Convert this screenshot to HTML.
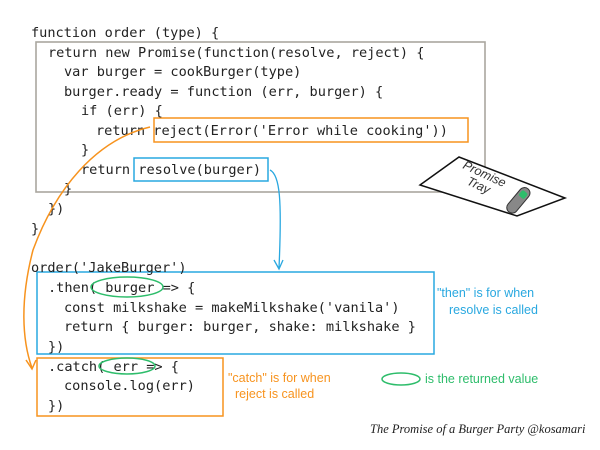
<!DOCTYPE html>
<html><head><meta charset="utf-8"><style>
html,body{margin:0;padding:0;background:#fff;width:600px;height:450px;overflow:hidden}
svg{display:block}
.c{font-family:"DejaVu Sans Mono","Liberation Mono",monospace;font-size:13.6px;fill:#222}
.h{font-family:"Liberation Sans",sans-serif;font-size:12.5px}
</style></head><body>
<svg width="600" height="450" viewBox="0 0 600 450">
<rect x="36" y="42" width="449" height="150" fill="none" stroke="#aaa79f" stroke-width="1.6"/>
<rect x="154" y="118" width="314" height="24" fill="none" stroke="#f7931e" stroke-width="1.5"/>
<rect x="134" y="158" width="134" height="23" fill="none" stroke="#29a8e0" stroke-width="1.5"/>
<rect x="37" y="272" width="397" height="82" fill="none" stroke="#29a8e0" stroke-width="1.5"/>
<rect x="37" y="358" width="186" height="58" fill="none" stroke="#f7931e" stroke-width="1.5"/>
<g class="c">
<text x="31" y="37">function order (type) {</text>
<text x="48" y="57">return new Promise(function(resolve, reject) {</text>
<text x="64" y="76">var burger = cookBurger(type)</text>
<text x="64" y="96">burger.ready = function (err, burger) {</text>
<text x="81" y="115">if (err) {</text>
<text x="96" y="135">return reject(Error('Error while cooking'))</text>
<text x="81" y="154">}</text>
<text x="81" y="174">return resolve(burger)</text>
<text x="64" y="193">}</text>
<text x="48" y="213">})</text>
<text x="31" y="233">}</text>
<text x="31" y="272">order('JakeBurger')</text>
<text x="48" y="292">.then( burger => {</text>
<text x="64" y="312">const milkshake = makeMilkshake('vanila')</text>
<text x="64" y="331">return { burger: burger, shake: milkshake }</text>
<text x="48" y="351">})</text>
<text x="48" y="371">.catch( err => {</text>
<text x="64" y="390">console.log(err)</text>
<text x="48" y="410">})</text>
</g>
<ellipse cx="127" cy="287" rx="36" ry="10" fill="none" stroke="#2ebd6b" stroke-width="1.5"/>
<ellipse cx="127" cy="366" rx="28" ry="8" fill="none" stroke="#2ebd6b" stroke-width="1.5"/>
<ellipse cx="401" cy="379" rx="19" ry="6" fill="none" stroke="#2ebd6b" stroke-width="1.5"/>
<path d="M150,127 C95,140 55,190 33,250 C20,300 22,340 32,368" fill="none" stroke="#f7931e" stroke-width="1.5"/>
<path d="M26,360 L32,369 L36,360" fill="none" stroke="#f7931e" stroke-width="1.5"/>
<path d="M270,170 C280,175 282,200 279,268" fill="none" stroke="#29a8e0" stroke-width="1.3"/>
<path d="M274,260 L279,269 L283,260" fill="none" stroke="#29a8e0" stroke-width="1.3"/>
<polygon points="420,185 459,157 565,198 517,216" fill="#fff" stroke="#111" stroke-width="1.5"/>
<text class="h" x="462" y="168" font-size="8" transform="rotate(25 462 168)" fill="#333" font-style="italic">Promise</text>
<text class="h" x="466" y="184" font-size="8" transform="rotate(25 466 184)" fill="#333" font-style="italic">Tray</text>
<g transform="rotate(40 518 200)">
<rect x="513" y="185" width="11" height="30" rx="5.5" fill="#888" stroke="#333" stroke-width="1"/>
<rect x="515" y="189" width="7" height="7" rx="2" fill="#2ebd6b"/>
</g>
<g class="h">
<text x="437" y="297" fill="#29a8e0">"then" is for when</text>
<text x="449" y="314" fill="#29a8e0">resolve is called</text>
<text x="228" y="382" fill="#f7931e">"catch" is for when</text>
<text x="235" y="398" fill="#f7931e">reject is called</text>
<text x="425" y="383" fill="#2ebd6b">is the returned value</text>
</g>
<text x="370" y="433" font-family="Liberation Serif,serif" font-style="italic" font-size="12.5" fill="#222">The Promise of a Burger Party @kosamari</text>
</svg>
</body></html>
